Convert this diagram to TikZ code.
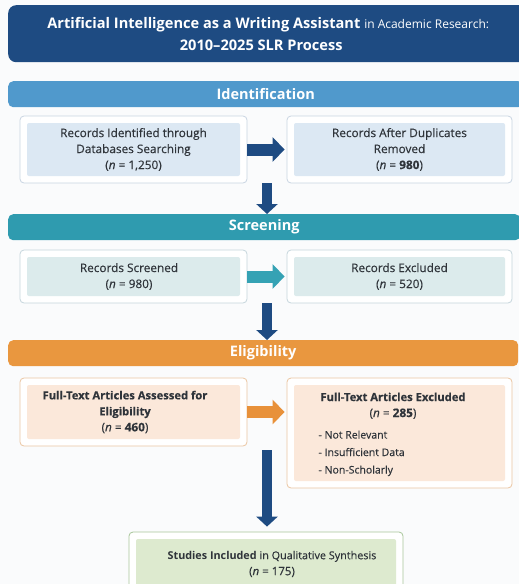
\documentclass[tikz,border=0pt]{standalone}
\usepackage{fontspec}
\setmainfont{Open Sans}
\newfontfamily\medfont[FakeBold=0.35]{Open Sans}
\usetikzlibrary{arrows.meta,calc}

\definecolor{pagebg}{HTML}{FAFBFC}
\definecolor{navy}{HTML}{1E4B82}
\definecolor{idbar}{HTML}{5099CC}
\definecolor{scrbar}{HTML}{2F9BAF}
\definecolor{eligbar}{HTML}{E9973F}
\definecolor{txt}{HTML}{2F343A}
\definecolor{blueedge}{HTML}{C9D5E2}
\definecolor{bluefill}{HTML}{DCE8F3}
\definecolor{tealedge}{HTML}{C6D6DC}
\definecolor{tealfill}{HTML}{DCEBEC}
\definecolor{orangeedge}{HTML}{EBC6A2}
\definecolor{orangefill}{HTML}{FBE8DA}
\definecolor{greenedge}{HTML}{A8C69A}
\definecolor{greenfill}{HTML}{DDEACF}
\definecolor{tealarrow}{HTML}{35A2B4}
\definecolor{orangearrow}{HTML}{E8913A}

\tikzset{
  titlebox/.style={fill=navy, rounded corners=8pt, text=white, align=center,
    font=\fontsize{14.6}{22}\selectfont},
  phasebar/.style={fill=#1, rounded corners=5pt, text=white,
    font=\fontsize{14.5}{16}\selectfont\bfseries, minimum height=26pt},
  card/.style n args={2}{draw=#1, fill=white, line width=0.8pt, rounded corners=4pt,
    text=txt, align=center, font=\medfont\fontsize{11.8}{16}\selectfont,
    path picture={\fill[#2, rounded corners=2pt]
      ([shift={(7pt,-7pt)}]path picture bounding box.north west) rectangle
      ([shift={(-7pt,7pt)}]path picture bounding box.south east);}},
  plain/.style={text=txt, font=\medfont\fontsize{11.8}{16}\selectfont},
  sidearrow/.style={draw=#1, line width=12pt, -{Triangle[length=12pt,width=24pt]}},
  downarrow/.style={draw=navy, line width=10pt, -{Triangle[length=10pt,width=21pt]}},
}

\begin{document}
\begin{tikzpicture}[x=1pt,y=-1pt]
\clip (0,0) rectangle (519,584);
\fill[pagebg] (0,0) rectangle (519,584);

% heading
\node[titlebox, minimum width=520pt, minimum height=57pt, anchor=north west] (title) at (8,5)
  {\textbf{Artificial Intelligence as a Writing Assistant} {\fontsize{12}{22}\selectfont in Academic Research:}\\
   \textbf{2010--2025 SLR Process}\hspace*{14pt}};

% phase bars
\node[phasebar=idbar, minimum width=515pt, anchor=north west] (ident) at (8,81) {Identification};
\node[phasebar=scrbar, minimum width=512pt, anchor=north west] (screen) at (8,214) {Screening};
\node[phasebar=eligbar, minimum width=510pt, anchor=north west] (elig) at (8,340) {Eligibility};

% identification row
\node[card={blueedge}{bluefill}, minimum width=227pt, minimum height=67pt] (found) at (133.5,149.5)
  {Records Identified through\\Databases Searching\\(\textit{n} = 1,250)};
\node[card={blueedge}{bluefill}, minimum width=225pt, minimum height=67pt] (dedup) at (399.5,149.5)
  {Records After Duplicates\\Removed\\(\textit{n} = \textbf{980})};

% screening row
\node[card={tealedge}{tealfill}, minimum width=227pt, minimum height=53pt] (screened) at (133.5,276.5) {};
\node[plain, align=center] (screenedtxt) at (129,276.5) {Records Screened\\(\textit{n} = 980)};
\node[card={tealedge}{tealfill}, minimum width=225pt, minimum height=53pt] (excluded) at (399.5,276.5)
  {Records Excluded\\(\textit{n} = 520)};

% eligibility row
\node[card={orangeedge}{orangefill}, minimum width=227pt, minimum height=68pt] (assessed) at (133.5,412) {};
\node[plain, align=center] (assessedtxt) at (125,412)
  {{\fontsize{11.2}{16}\selectfont\bfseries Full-Text Articles Assessed for}\\
   {\fontsize{11.2}{16}\selectfont\bfseries Eligibility}\\(\textit{n} = \textbf{460})};
\node[card={orangeedge}{orangefill}, minimum width=225pt, minimum height=110pt] (ftexcl) at (399.5,433) {};
\node[plain, align=center, anchor=north] (ftexclhead) at (393,389)
  {{\fontsize{11.2}{16}\selectfont\bfseries Full-Text Articles Excluded}\\(\textit{n} = \textbf{285})};
\node[plain, align=left, anchor=north west, font=\medfont\fontsize{10.5}{17.5}\selectfont] (reasons) at (315,427)
  {- Not Relevant\\- Insufficient Data\\- Non-Scholarly};

% included studies
\node[card={greenedge}{greenfill}, minimum width=274pt, minimum height=64pt] (included) at (266,564) {};
\node[plain, align=center, font=\fontsize{10.8}{16}\selectfont] (includedtxt) at (272,564)
  {{\bfseries Studies Included} {\medfont in Qualitative Synthesis}\\{\medfont\fontsize{11.5}{16}\selectfont(\textit{n} = 175)}};

% horizontal flow arrows
\draw[sidearrow=navy] (found.east) -- ([xshift=-2pt]dedup.west);
\draw[sidearrow=tealarrow] (screened.east) -- ([xshift=-2pt]excluded.west);
\draw[sidearrow=orangearrow] (assessed.east) -- ([xshift=-2pt]assessed.east -| ftexcl.west);

% vertical flow arrows
\coordinate (gap1) at ($(found.south east)!0.5!(dedup.south west)$);
\draw[downarrow] (gap1) -- (gap1 |- screen.north);
\coordinate (gap2) at ($(screened.south east)!0.5!(excluded.south west)$);
\draw[downarrow] (gap2) -- (gap2 |- elig.north);
\coordinate (gap3) at ($(assessed.south east)!0.5!(ftexcl.south west)$);
\draw[downarrow] (gap3 |- assessed.south) ++(0,4) -- ([yshift=5pt]gap3 |- included.north);
\end{tikzpicture}
\end{document}
